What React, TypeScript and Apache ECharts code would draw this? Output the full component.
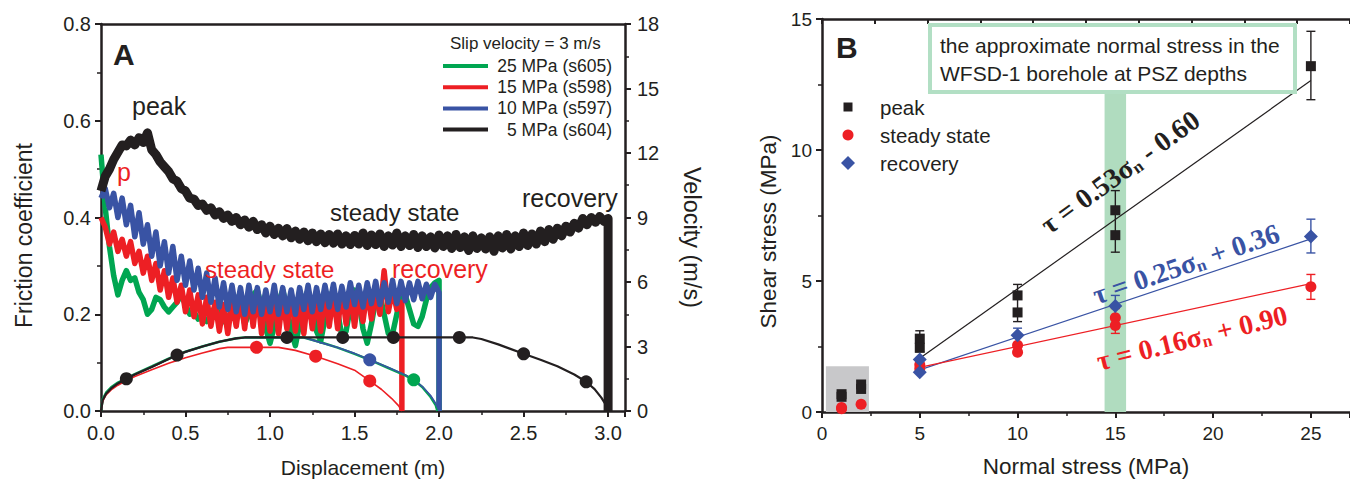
import React, { useEffect, useRef } from 'react';
import * as echarts from 'echarts';

const INK = '#231f20';
const GREEN = '#00a651';
const RED = '#ed1f24';
const BLUE = '#3953a4';
const FONT = "'Liberation Sans', Arial, Helvetica, sans-serif";
const SERIF = "'Liberation Serif', 'Times New Roman', serif";

// ---------- Panel A: friction coefficient (sampled every 0.025 m) ----------
const FRICTION_STEP = 0.025;
const FRICTION_5MPA = [
  0.455, 0.485, 0.5, 0.52, 0.535, 0.55, 0.548, 0.56,
  0.55, 0.565, 0.555, 0.575, 0.54, 0.53, 0.515, 0.505,
  0.495, 0.48, 0.475, 0.46, 0.455, 0.44, 0.438, 0.425,
  0.428, 0.415, 0.42, 0.405, 0.412, 0.398, 0.405, 0.392,
  0.4, 0.385, 0.395, 0.38, 0.392, 0.375, 0.385, 0.368,
  0.382, 0.365, 0.378, 0.362, 0.377, 0.358, 0.372, 0.355,
  0.37, 0.352, 0.368, 0.35, 0.366, 0.348, 0.365, 0.347,
  0.366, 0.345, 0.362, 0.344, 0.363, 0.345, 0.368, 0.342,
  0.364, 0.344, 0.366, 0.34, 0.362, 0.343, 0.368, 0.34,
  0.362, 0.342, 0.365, 0.338, 0.362, 0.34, 0.36, 0.337,
  0.364, 0.34, 0.362, 0.336, 0.365, 0.338, 0.36, 0.332,
  0.362, 0.336, 0.358, 0.335, 0.36, 0.33, 0.362, 0.337,
  0.365, 0.335, 0.362, 0.34, 0.368, 0.342, 0.366, 0.345,
  0.372, 0.35, 0.375, 0.355, 0.378, 0.362, 0.382, 0.37,
  0.388, 0.378, 0.398, 0.385, 0.4, 0.39, 0.402, 0.392,
  0.398,
];
const FRICTION_15MPA = [
  0.4, 0.38, 0.345, 0.37, 0.33, 0.355, 0.32, 0.35,
  0.305, 0.33, 0.285, 0.32, 0.27, 0.305, 0.25, 0.29,
  0.235, 0.275, 0.225, 0.26, 0.205, 0.25, 0.195, 0.24,
  0.18, 0.235, 0.175, 0.225, 0.165, 0.22, 0.16, 0.225,
  0.175, 0.24, 0.17, 0.25, 0.175, 0.245, 0.16, 0.235,
  0.165, 0.24, 0.16, 0.235, 0.17, 0.245, 0.165, 0.23,
  0.16, 0.24, 0.17, 0.235, 0.165, 0.245, 0.175, 0.24,
  0.17, 0.25, 0.18, 0.245, 0.175, 0.24, 0.185, 0.25,
  0.19, 0.245, 0.2, 0.29, 0.205, 0.25, 0.21, 0.225,
];
const FRICTION_10MPA = [
  0.44, 0.46, 0.42, 0.45, 0.4, 0.44, 0.385, 0.425,
  0.36, 0.41, 0.345, 0.385, 0.32, 0.37, 0.3, 0.35,
  0.285, 0.34, 0.27, 0.32, 0.26, 0.31, 0.25, 0.295,
  0.235, 0.285, 0.225, 0.275, 0.215, 0.265, 0.21, 0.26,
  0.205, 0.255, 0.2, 0.26, 0.205, 0.255, 0.2, 0.25,
  0.205, 0.26, 0.2, 0.255, 0.205, 0.25, 0.2, 0.255,
  0.21, 0.26, 0.205, 0.255, 0.21, 0.26, 0.215, 0.262,
  0.21, 0.258, 0.215, 0.265, 0.22, 0.26, 0.215, 0.265,
  0.222, 0.268, 0.22, 0.265, 0.225, 0.27, 0.222, 0.268,
  0.228, 0.265, 0.23, 0.268, 0.232, 0.262, 0.235, 0.262,
  0.245,
];
const FRICTION_25MPA = [
  0.53, 0.42, 0.34, 0.28, 0.24, 0.27, 0.29, 0.27,
  0.275, 0.245, 0.23, 0.2, 0.21, 0.235, 0.23, 0.215,
  0.205, 0.215, 0.225, 0.24, 0.22, 0.2, 0.205, 0.19,
  0.195, 0.185, 0.2, 0.215, 0.2, 0.185, 0.19, 0.21,
  0.235, 0.22, 0.18, 0.2, 0.24, 0.25, 0.215, 0.17,
  0.14, 0.175, 0.225, 0.25, 0.215, 0.165, 0.135, 0.18,
  0.23, 0.25, 0.21, 0.165, 0.145, 0.19, 0.235, 0.25,
  0.205, 0.155, 0.165, 0.215, 0.25, 0.23, 0.17, 0.14,
  0.18, 0.23, 0.24, 0.2, 0.16, 0.16, 0.2, 0.24,
  0.24, 0.21, 0.18, 0.175, 0.195, 0.23, 0.255, 0.265,
  0.27,
];
const END_DISP = { s604: 3.0, s598: 1.78, s597: 2.0, s605: 2.0 };

// ---------- Panel A: slip velocity (m/s) ----------
const VEL_5MPA = [
  [0, 0], [0.01, 0.5], [0.03, 0.8], [0.06, 1.05], [0.1, 1.28], [0.15, 1.5], [0.2, 1.7], [0.3, 2.05],
  [0.4, 2.42], [0.45, 2.6], [0.5, 2.75], [0.6, 3.0], [0.7, 3.22], [0.8, 3.38], [0.85, 3.42], [2.2, 3.42],
  [2.25, 3.35], [2.35, 3.1], [2.5, 2.66], [2.6, 2.38], [2.7, 2.08], [2.8, 1.7], [2.87, 1.36], [2.92, 1.02],
  [2.96, 0.62], [2.99, 0.25], [3.0, 0],
];
const VEL_15MPA = [
  [0, 0], [0.01, 0.45], [0.03, 0.75], [0.06, 0.98], [0.1, 1.2], [0.15, 1.42], [0.2, 1.6], [0.3, 1.92],
  [0.4, 2.22], [0.5, 2.48], [0.6, 2.7], [0.7, 2.9], [0.75, 2.96], [1.05, 2.96], [1.15, 2.82], [1.27, 2.55],
  [1.4, 2.2], [1.5, 1.9], [1.59, 1.4], [1.66, 1.0], [1.72, 0.58], [1.76, 0.25], [1.78, 0],
];
const VEL_10MPA = [
  [0, 0], [0.01, 0.5], [0.03, 0.8], [0.06, 1.05], [0.1, 1.28], [0.15, 1.5], [0.2, 1.7], [0.3, 2.05],
  [0.4, 2.42], [0.5, 2.75], [0.6, 3.0], [0.7, 3.22], [0.8, 3.38], [0.85, 3.42], [1.2, 3.42], [1.3, 3.18],
  [1.4, 2.95], [1.5, 2.68], [1.59, 2.38], [1.7, 2.02], [1.8, 1.68], [1.85, 1.45], [1.9, 1.15], [1.95, 0.72],
  [1.98, 0.35], [2.0, 0],
];
const VEL_25MPA = [
  [0, 0], [0.01, 0.55], [0.03, 0.85], [0.06, 1.1], [0.1, 1.32], [0.15, 1.52], [0.2, 1.72], [0.3, 2.07],
  [0.4, 2.43], [0.5, 2.76], [0.6, 3.0], [0.7, 3.22], [0.8, 3.38], [0.85, 3.42], [1.2, 3.42], [1.3, 3.2],
  [1.4, 2.95], [1.5, 2.66], [1.6, 2.34], [1.7, 2.0], [1.8, 1.66], [1.85, 1.45], [1.9, 1.12], [1.95, 0.65],
  [1.98, 0.28], [1.99, 0],
];
const VEL_MARK_5MPA = [[0.15, 1.5], [0.45, 2.6], [1.1, 3.42], [1.43, 3.42], [1.73, 3.42], [2.12, 3.42], [2.5, 2.66], [2.87, 1.36]];
const VEL_MARK_15MPA = [[0.92, 2.96], [1.27, 2.55], [1.59, 1.4]];
const VEL_MARK_10MPA = [[1.59, 2.38]];
const VEL_MARK_25MPA = [[1.85, 1.45]];

const LEGEND_A = [
  { label: '25 MPa (s605)', color: GREEN },
  { label: '15 MPa (s598)', color: RED },
  { label: '10 MPa (s597)', color: BLUE },
  { label: '5 MPa (s604)', color: INK },
];

// ---------- Panel B: shear vs normal stress (MPa) ----------
const PEAK = [[1, 0.68], [1, 0.58], [2, 1.05], [2, 0.88], [5, 2.8], [5, 2.45], [10, 4.45], [10, 3.8], [15, 7.7], [15, 6.75], [25, 13.2]];
const STEADY = [[1, 0.17], [1, 0.12], [2, 0.3], [5, 1.8], [5, 1.65], [10, 2.55], [10, 2.28], [15, 3.6], [15, 3.3], [25, 4.78]];
const RECOVERY = [[5, 2.0], [5, 1.52], [10, 2.93], [15, 4.05], [25, 6.7]];
const PEAK_ERR = [[5, 2.3, 3.1], [10, 3.45, 4.87], [15, 6.1, 8.45], [25, 11.92, 14.53]];
const STEADY_ERR = [[15, 3.0, 3.95], [25, 4.3, 5.25]];
const RECOVERY_ERR = [[10, 2.6, 3.2], [15, 3.65, 4.45], [25, 6.07, 7.36]];
const FIT_PEAK = [[5, 2.05], [25, 12.65]];
const FIT_STEADY = [[5, 1.7], [25, 4.9]];
const FIT_RECOVERY = [[5, 1.61], [25, 6.61]];
const PSZ_BAND = [14.45, 15.55, 12.2];
const LOW_STRESS_BOX = [0.2, 2.4, 1.75];

function frictionData(vals: number[], endX: number) {
  const pts: number[][] = vals.map((v, i) => [Math.round(i * FRICTION_STEP * 1000) / 1000, v]);
  const last = pts[pts.length - 1];
  if (last[0] !== endX) pts.push([endX, last[1]]);
  pts.push([endX, 0]);
  return pts;
}

function errRender(color: string) {
  return (params: any, api: any) => {
    const x = api.value(0);
    const a = api.coord([x, api.value(1)]);
    const b = api.coord([x, api.value(2)]);
    const w = 4.5;
    const st = { stroke: color, lineWidth: 1.4 };
    return {
      type: 'group',
      children: [
        { type: 'line', shape: { x1: a[0], y1: a[1], x2: b[0], y2: b[1] }, style: st },
        { type: 'line', shape: { x1: a[0] - w, y1: a[1], x2: a[0] + w, y2: a[1] }, style: st },
        { type: 'line', shape: { x1: b[0] - w, y1: b[1], x2: b[0] + w, y2: b[1] }, style: st },
      ],
    };
  };
}

function axisBase(fontSize: number, margin: number) {
  return {
    axisLine: { show: true, onZero: false, lineStyle: { color: INK, width: 2.5 } },
    axisTick: { show: true, length: 6, lineStyle: { color: INK, width: 2 } },
    minorTick: { show: true, splitNumber: 2, length: 4, lineStyle: { color: INK, width: 1.5 } },
    splitLine: { show: false },
    minorSplitLine: { show: false },
    axisLabel: { color: INK, fontSize, fontFamily: FONT, margin },
  };
}

function eqText(x: number, y: number, deg: number, color: string, a: string, b: string) {
  const base = { fontSize: 28, fontWeight: 'bold', fontFamily: SERIF, fill: color, color, lineHeight: 30 };
  return {
    type: 'text',
    x,
    y,
    rotation: (deg * Math.PI) / 180,
    z: 100,
    style: {
      text: `{m|${a}}{s|n}{m|${b}}`,
      align: 'center',
      verticalAlign: 'middle',
      rich: {
        m: base,
        s: { fontSize: 17, fontWeight: 'bold', fontFamily: SERIF, fill: color, color, lineHeight: 13, verticalAlign: 'bottom' },
      },
    },
  };
}

function label(text: string, x: number, y: number, color: string, size: number, extra: any = {}) {
  return {
    type: 'text',
    x,
    y,
    z: 100,
    style: { text, fill: color, font: `${extra.weight || 'normal'} ${size}px ${FONT}`, align: extra.align || 'left', verticalAlign: 'middle' },
  };
}

export default function App() {
  const ref = useRef<HTMLDivElement>(null);
  useEffect(() => {
    if (!ref.current) return;
    const chart = echarts.init(ref.current, undefined, { renderer: 'svg' });

    const legendA: any[] = [label('Slip velocity = 3 m/s', 450, 43, INK, 17)];
    LEGEND_A.forEach((it, i) => {
      const y = 66 + i * 21.2;
      legendA.push({ type: 'line', z: 100, shape: { x1: 443, y1: y, x2: 488, y2: y }, style: { stroke: it.color, lineWidth: 4 } });
      legendA.push(label(it.label, 612, y, INK, 17.5, { align: 'right' }));
    });

    const legendB: any[] = [
      { type: 'rect', z: 100, shape: { x: 843.5, y: 102.5, width: 9, height: 9 }, style: { fill: INK } },
      { type: 'circle', z: 100, shape: { cx: 848, cy: 135, r: 5.5 }, style: { fill: RED } },
      { type: 'polygon', z: 100, shape: { points: [[848, 156], [855, 163], [848, 170], [841, 163]] }, style: { fill: BLUE } },
      label('peak', 880, 107, INK, 20.5),
      label('steady state', 880, 135, INK, 20.5),
      label('recovery', 880, 163, INK, 20.5),
    ];

    const option: any = {
      animation: false,
      backgroundColor: '#ffffff',
      textStyle: { fontFamily: FONT },
      grid: [
        { left: 101, top: 24, width: 524, height: 389 },
        { left: 822, top: 19, width: 535, height: 397 },
      ],
      xAxis: [
        {
          ...axisBase(20, 12),
          gridIndex: 0, type: 'value', min: 0, max: 3.1, interval: 0.5, position: 'bottom',
          axisLabel: { ...axisBase(20, 12).axisLabel, formatter: (v: number) => v.toFixed(1), showMaxLabel: false },
          name: 'Displacement (m)', nameLocation: 'middle', nameGap: 46,
          nameTextStyle: { color: INK, fontSize: 21, fontFamily: FONT },
        },
        {
          gridIndex: 0, type: 'value', min: 0, max: 3.1, position: 'top',
          axisLine: { show: true, onZero: false, lineStyle: { color: INK, width: 2.5 } },
          axisTick: { show: false }, axisLabel: { show: false }, splitLine: { show: false },
        },
        {
          ...axisBase(19, 12),
          gridIndex: 1, type: 'value', min: 0, max: 27, interval: 5, position: 'bottom',
          axisLabel: { ...axisBase(19, 12).axisLabel, showMaxLabel: false },
          name: 'Normal stress (MPa)', nameLocation: 'middle', nameGap: 43,
          nameTextStyle: { color: INK, fontSize: 22.5, fontFamily: FONT },
        },
        {
          gridIndex: 1, type: 'value', min: 0, max: 27, interval: 2.7, position: 'top',
          axisLine: { show: true, onZero: false, lineStyle: { color: INK, width: 2.5 } },
          axisTick: { show: true, inside: true, length: 5, lineStyle: { color: INK, width: 2 } },
          axisLabel: { show: false }, splitLine: { show: false },
        },
      ],
      yAxis: [
        {
          ...axisBase(20, 10),
          gridIndex: 0, type: 'value', min: 0, max: 0.8, interval: 0.2, position: 'left',
          axisLabel: { ...axisBase(20, 10).axisLabel, formatter: (v: number) => v.toFixed(1) },
          name: 'Friction coefficient', nameLocation: 'middle', nameGap: 66, nameRotate: 90,
          nameTextStyle: { color: INK, fontSize: 23, fontFamily: FONT, padding: [0, 36, 0, 0] },
        },
        {
          ...axisBase(20, 12),
          gridIndex: 0, type: 'value', min: 0, max: 18, interval: 3, position: 'right',
          name: 'Velocity (m/s)', nameLocation: 'middle', nameGap: 55, nameRotate: -90,
          nameTextStyle: { color: INK, fontSize: 23.5, fontFamily: FONT, padding: [0, 0, 0, 40] },
        },
        {
          ...axisBase(19, 10),
          gridIndex: 1, type: 'value', min: 0, max: 15, interval: 5, position: 'left',
          name: 'Shear stress (MPa)', nameLocation: 'middle', nameGap: 42, nameRotate: 90,
          nameTextStyle: { color: INK, fontSize: 22.5, fontFamily: FONT, padding: [0, 32, 0, 0] },
        },
      ],
      series: [
        // Panel A friction
        { name: '25 MPa (s605)', type: 'line', xAxisIndex: 0, yAxisIndex: 0, symbol: 'none', data: frictionData(FRICTION_25MPA, END_DISP.s605), lineStyle: { color: GREEN, width: 5.5, join: 'round' }, z: 2 },
        { name: '15 MPa (s598)', type: 'line', xAxisIndex: 0, yAxisIndex: 0, symbol: 'none', data: frictionData(FRICTION_15MPA, END_DISP.s598), lineStyle: { color: RED, width: 5.5, join: 'round' }, z: 2 },
        { name: '10 MPa (s597)', type: 'line', xAxisIndex: 0, yAxisIndex: 0, symbol: 'none', data: frictionData(FRICTION_10MPA, END_DISP.s597), lineStyle: { color: BLUE, width: 5.5, join: 'round' }, z: 2 },
        { name: '5 MPa (s604)', type: 'line', xAxisIndex: 0, yAxisIndex: 0, symbol: 'none', data: frictionData(FRICTION_5MPA, END_DISP.s604), lineStyle: { color: INK, width: 9, join: 'round' }, z: 2 },
        // Panel A velocity
        { type: 'line', xAxisIndex: 0, yAxisIndex: 1, symbol: 'none', data: VEL_25MPA, lineStyle: { color: GREEN, width: 2.5 }, z: 3 },
        { type: 'line', xAxisIndex: 0, yAxisIndex: 1, symbol: 'none', data: VEL_10MPA, lineStyle: { color: BLUE, width: 1.6 }, z: 3 },
        { type: 'line', xAxisIndex: 0, yAxisIndex: 1, symbol: 'none', data: VEL_15MPA, lineStyle: { color: RED, width: 1.6 }, z: 3 },
        { type: 'line', xAxisIndex: 0, yAxisIndex: 1, symbol: 'none', data: VEL_5MPA, lineStyle: { color: INK, width: 2.2 }, z: 3 },
        { type: 'scatter', xAxisIndex: 0, yAxisIndex: 1, symbol: 'circle', symbolSize: 13, data: VEL_MARK_25MPA, itemStyle: { color: GREEN, opacity: 1 }, z: 4 },
        { type: 'scatter', xAxisIndex: 0, yAxisIndex: 1, symbol: 'circle', symbolSize: 13, data: VEL_MARK_10MPA, itemStyle: { color: BLUE, opacity: 1 }, z: 4 },
        { type: 'scatter', xAxisIndex: 0, yAxisIndex: 1, symbol: 'circle', symbolSize: 13, data: VEL_MARK_15MPA, itemStyle: { color: RED, opacity: 1 }, z: 4 },
        { type: 'scatter', xAxisIndex: 0, yAxisIndex: 1, symbol: 'circle', symbolSize: 13, data: VEL_MARK_5MPA, itemStyle: { color: INK, opacity: 1 }, z: 4 },
        // Panel B shaded regions
        {
          type: 'scatter', xAxisIndex: 2, yAxisIndex: 2, data: [], z: 1,
          markArea: {
            silent: true,
            data: [
              [{ xAxis: PSZ_BAND[0], yAxis: 0, itemStyle: { color: '#b0dcbf' } }, { xAxis: PSZ_BAND[1], yAxis: PSZ_BAND[2] }],
              [{ xAxis: LOW_STRESS_BOX[0], yAxis: 0, itemStyle: { color: '#c8c8ca' } }, { xAxis: LOW_STRESS_BOX[1], yAxis: LOW_STRESS_BOX[2] }],
            ],
          },
        },
        // Panel B fits
        { type: 'line', xAxisIndex: 2, yAxisIndex: 2, symbol: 'none', data: FIT_PEAK, lineStyle: { color: INK, width: 1.2 }, z: 3 },
        { type: 'line', xAxisIndex: 2, yAxisIndex: 2, symbol: 'none', data: FIT_RECOVERY, lineStyle: { color: BLUE, width: 1.2 }, z: 3 },
        { type: 'line', xAxisIndex: 2, yAxisIndex: 2, symbol: 'none', data: FIT_STEADY, lineStyle: { color: RED, width: 1.2 }, z: 3 },
        // Panel B error bars
        { type: 'custom', xAxisIndex: 2, yAxisIndex: 2, renderItem: errRender(INK), data: PEAK_ERR, encode: { x: 0, y: [1, 2] }, z: 4 },
        { type: 'custom', xAxisIndex: 2, yAxisIndex: 2, renderItem: errRender(RED), data: STEADY_ERR, encode: { x: 0, y: [1, 2] }, z: 4 },
        { type: 'custom', xAxisIndex: 2, yAxisIndex: 2, renderItem: errRender(BLUE), data: RECOVERY_ERR, encode: { x: 0, y: [1, 2] }, z: 4 },
        // Panel B points
        { name: 'peak', type: 'scatter', xAxisIndex: 2, yAxisIndex: 2, symbol: 'rect', symbolSize: 10, data: PEAK, itemStyle: { color: INK, opacity: 1 }, z: 5 },
        { name: 'steady state', type: 'scatter', xAxisIndex: 2, yAxisIndex: 2, symbol: 'circle', symbolSize: 11, data: STEADY, itemStyle: { color: RED, opacity: 1 }, z: 5 },
        { name: 'recovery', type: 'scatter', xAxisIndex: 2, yAxisIndex: 2, symbol: 'diamond', symbolSize: 14, data: RECOVERY, itemStyle: { color: BLUE, opacity: 1 }, z: 5 },
      ],
      graphic: [
        label('A', 113, 54, INK, 30, { weight: 'bold' }),
        label('B', 836, 47, INK, 30, { weight: 'bold' }),
        label('peak', 132, 106, INK, 25),
        label('p', 117, 172, RED, 25),
        label('steady state', 330, 212, INK, 24),
        label('recovery', 522, 198, INK, 25),
        label('steady state', 205, 269, RED, 24),
        label('recovery', 392, 269, RED, 25),
        ...legendA,
        {
          type: 'rect', z: 100,
          shape: { x: 930, y: 25, width: 365, height: 67 },
          style: { fill: '#ffffff', stroke: '#b2dfc4', lineWidth: 4 },
        },
        label('the approximate normal stress in the', 940, 45, INK, 21),
        label('WFSD-1 borehole at PSZ depths', 940, 73, INK, 21),
        ...legendB,
        eqText(1120, 172, 36, INK, 'τ = 0.53σ', ' - 0.60'),
        eqText(1186, 264, 19, BLUE, 'τ = 0.25σ', ' + 0.36'),
        eqText(1192, 338, 14, RED, 'τ = 0.16σ', ' + 0.90'),
      ],
    };
    chart.setOption(option);
    return () => chart.dispose();
  }, []);
  return <div ref={ref} style={{ position: 'absolute', left: 0, top: 0, width: 1350, height: 483 }} />;
}
